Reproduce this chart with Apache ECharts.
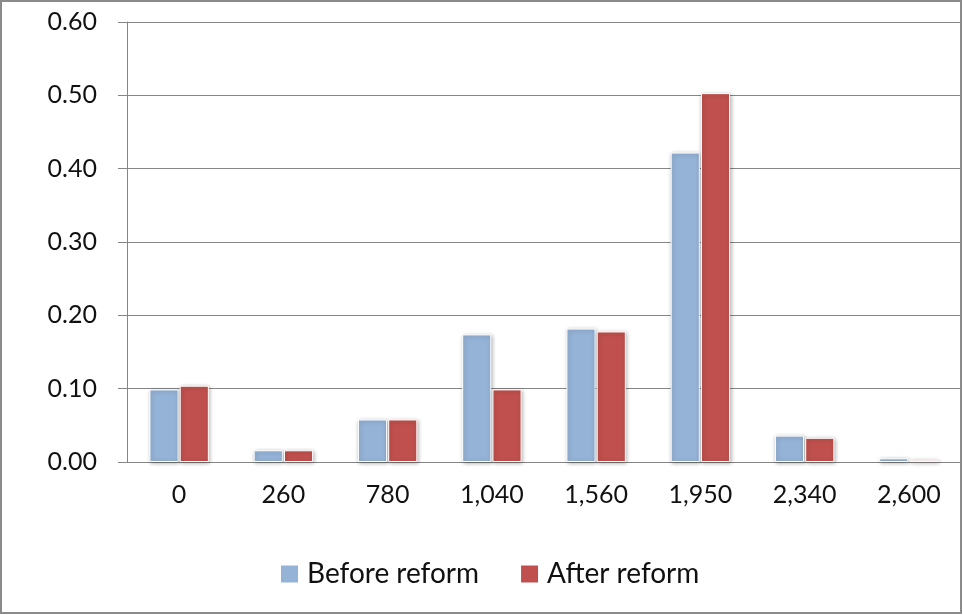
<!DOCTYPE html>
<html><head><meta charset="utf-8">
<script src="https://cdn.jsdelivr.net/npm/echarts@6/dist/echarts.min.js"></script>
<style>html,body{margin:0;padding:0;background:#fff}#c{width:963px;height:615px}</style>
</head><body><div id="c"></div>
<script>
const categories = ['0','260','780','1,040','1,560','1,950','2,340','2,600'];
const beforeReform = [0.099,0.016,0.058,0.174,0.182,0.422,0.036,0.005];
const afterReform = [0.104,0.016,0.058,0.099,0.178,0.503,0.033,0.003];
const yTicks = {min:0,max:0.6,interval:0.1};
const FONT = 'Lato';
const chart = echarts.init(document.getElementById('c'));
const barStyle = c => ({color:c,borderColor:'#fff',borderWidth:1,shadowBlur:4,shadowColor:'rgba(0,0,0,0.3)',shadowOffsetX:1,shadowOffsetY:1});
chart.setOption({
  animation:false,
  textStyle:{fontFamily:FONT},
  graphic:[{type:'rect',shape:{x:1,y:1,width:960,height:612},style:{fill:'none',stroke:'#8a8a8a',lineWidth:2}}],
  grid:{left:127,right:2,top:22,bottom:153,containLabel:false},
  legend:{left:274,top:555,itemWidth:19,itemHeight:19,itemGap:40,icon:'rect',
    textStyle:{fontSize:28,color:'#111',fontFamily:FONT,padding:[0,0,0,3]}},
  xAxis:{type:'category',data:categories,
    axisLine:{lineStyle:{color:'#868686',width:1}},
    axisTick:{length:8,lineStyle:{color:'#868686'}},
    axisLabel:{fontSize:25,color:'#111',margin:20,fontFamily:FONT}},
  yAxis:{type:'value',min:yTicks.min,max:yTicks.max,interval:yTicks.interval,
    axisLine:{show:true,lineStyle:{color:'#868686'}},
    axisTick:{show:true,length:9,lineStyle:{color:'#868686'}},
    splitLine:{lineStyle:{color:'#868686'}},
    axisLabel:{fontSize:25,color:'#111',margin:30,fontFamily:FONT,formatter:v=>v.toFixed(2)}},
  series:[
    {name:'Before reform',type:'bar',data:beforeReform,barGap:'4%',barCategoryGap:'43%',itemStyle:barStyle('#95B3D7')},
    {name:'After reform',type:'bar',data:afterReform,itemStyle:barStyle('#C0504D')}
  ]
});
</script></body></html>
